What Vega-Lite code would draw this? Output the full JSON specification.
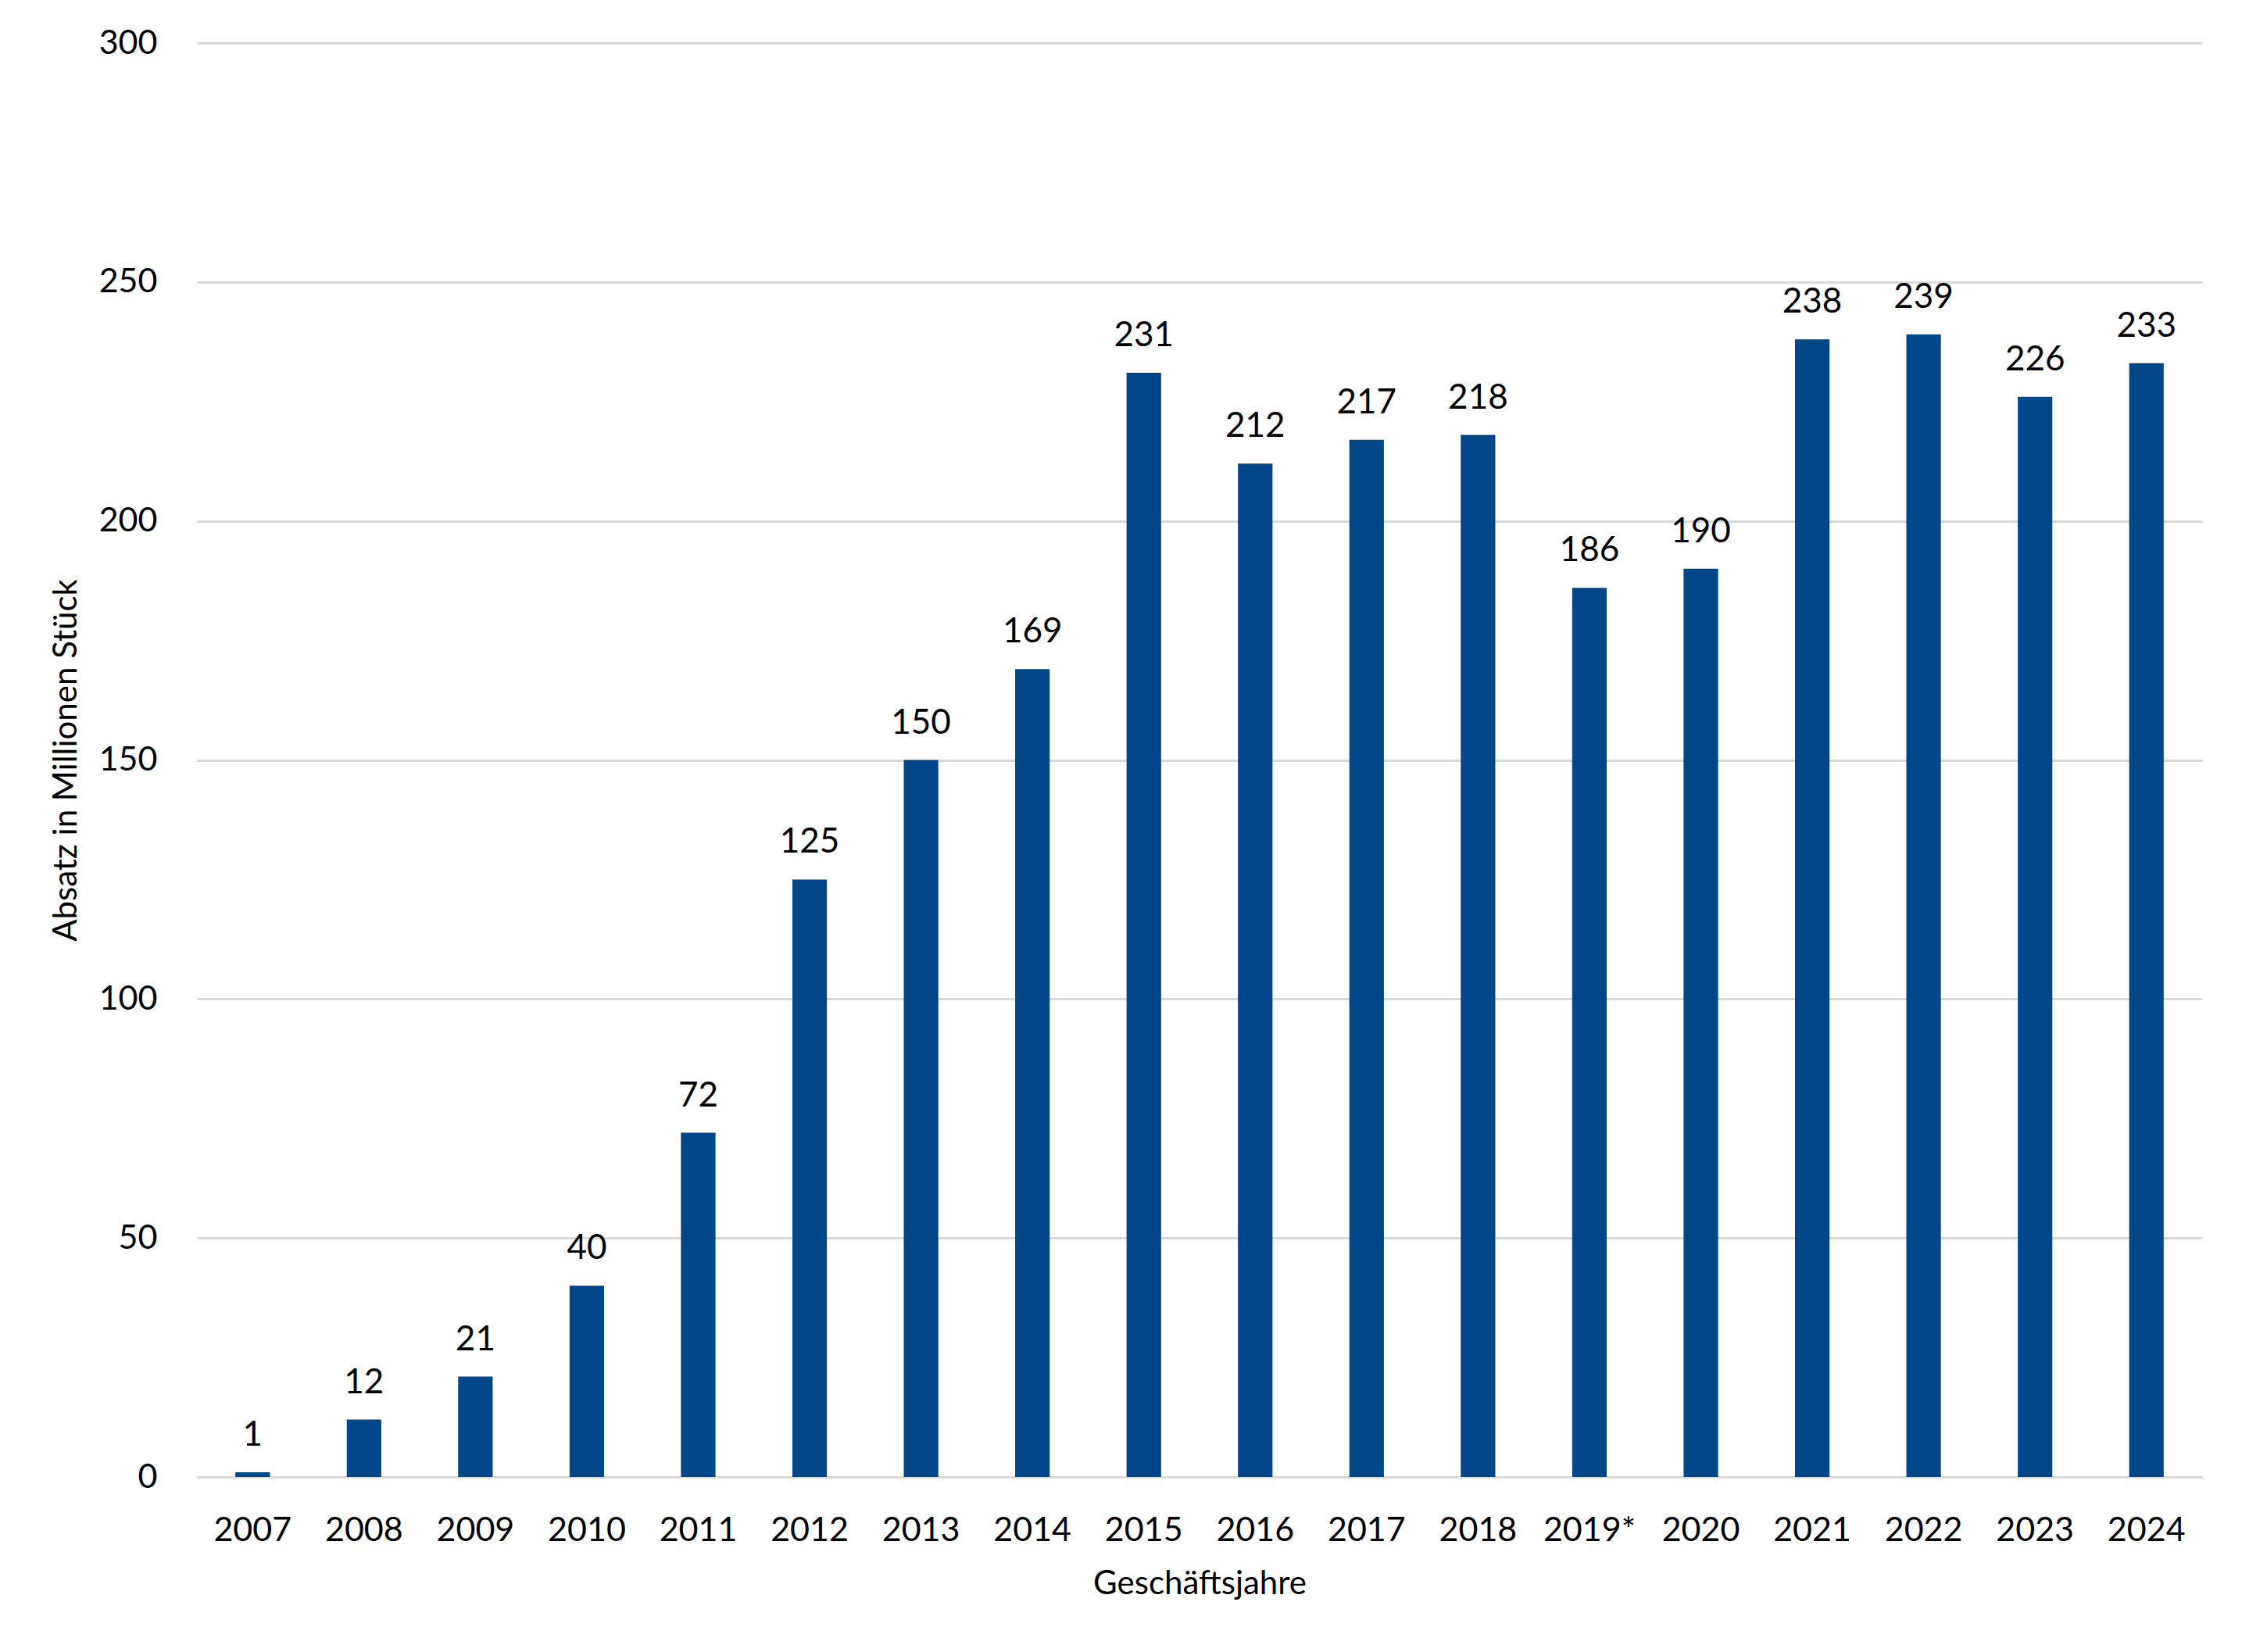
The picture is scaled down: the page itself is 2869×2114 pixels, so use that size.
{
  "$schema": "https://vega.github.io/schema/vega-lite/v6.json",
  "width": 2566,
  "height": 1835,
  "autosize": {"type": "none"},
  "padding": {"left": 252, "top": 55, "right": 51, "bottom": 224},
  "background": "white",
  "data": {
    "values": [
      {"Jahr": "2007", "Absatz": 1},
      {"Jahr": "2008", "Absatz": 12},
      {"Jahr": "2009", "Absatz": 21},
      {"Jahr": "2010", "Absatz": 40},
      {"Jahr": "2011", "Absatz": 72},
      {"Jahr": "2012", "Absatz": 125},
      {"Jahr": "2013", "Absatz": 150},
      {"Jahr": "2014", "Absatz": 169},
      {"Jahr": "2015", "Absatz": 231},
      {"Jahr": "2016", "Absatz": 212},
      {"Jahr": "2017", "Absatz": 217},
      {"Jahr": "2018", "Absatz": 218},
      {"Jahr": "2019*", "Absatz": 186},
      {"Jahr": "2020", "Absatz": 190},
      {"Jahr": "2021", "Absatz": 238},
      {"Jahr": "2022", "Absatz": 239},
      {"Jahr": "2023", "Absatz": 226},
      {"Jahr": "2024", "Absatz": 233}
    ]
  },
  "encoding": {
    "x": {
      "field": "Jahr",
      "type": "nominal",
      "sort": null,
      "scale": {"paddingInner": 0, "paddingOuter": 0},
      "axis": {
        "title": "Geschäftsjahre",
        "labelAngle": 0,
        "ticks": false,
        "labelPadding": 47,
        "titlePadding": 26,
        "domainColor": "#d9d9d9",
        "domainWidth": 3
      }
    },
    "y": {
      "field": "Absatz",
      "type": "quantitative",
      "scale": {"domain": [0, 300], "nice": false},
      "axis": {
        "title": "Absatz in Millionen Stück",
        "values": [0, 50, 100, 150, 200, 250, 300],
        "ticks": false,
        "domain": false,
        "labelPadding": 51,
        "titlePadding": 20,
        "gridColor": "#d9d9d9",
        "gridWidth": 3
      }
    }
  },
  "layer": [
    {
      "mark": {"type": "bar", "width": {"band": 0.31}, "color": "#02468a"}
    },
    {
      "mark": {
        "type": "text",
        "baseline": "alphabetic",
        "dy": -34,
        "font": "Lato",
        "fontSize": 44,
        "color": "black"
      },
      "encoding": {"text": {"field": "Absatz", "type": "quantitative"}}
    }
  ],
  "config": {
    "view": {"stroke": null},
    "axis": {
      "labelFont": "Lato",
      "labelFontSize": 43,
      "labelColor": "black",
      "titleFont": "Lato",
      "titleFontSize": 42,
      "titleFontWeight": "normal",
      "titleColor": "black"
    }
  }
}
